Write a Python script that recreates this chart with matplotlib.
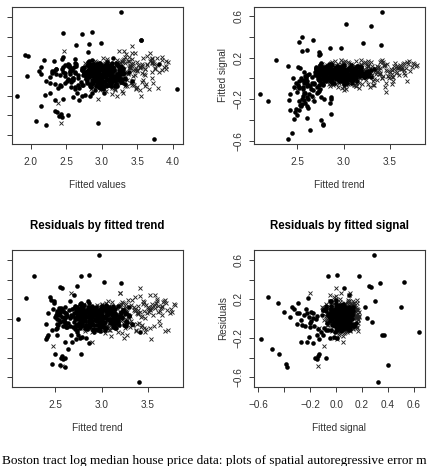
import numpy as np
import matplotlib
matplotlib.use("Agg")
import matplotlib.pyplot as plt

plt.rcParams['font.family'] = ['Liberation Sans', 'DejaVu Sans']

# ---- data: one entry per tract (trend, signal, residual) ----
# filled points
dot_trend = [2.97, 2.78, 2.86, 2.27, 3.025, 3.216, 2.576, 2.74, 2.55, 2.18,
             2.44, 2.854, 2.49, 2.78, 2.49, 2.45, 2.66, 2.70, 3.298, 2.735,
             2.42, 2.62, 2.47, 2.85, 2.10, 2.395, 2.395, 2.64, 2.78, 2.46,
             2.60, 2.55, 3.41, 3.413, 2.515, 2.666, 2.61, 2.41, 2.61, 2.68,
             2.86, 2.50, 2.56, 2.58, 2.60, 2.57, 2.52, 2.55, 2.53, 2.58,
             2.62, 2.66, 2.71, 2.74, 2.55, 2.57, 2.60, 2.63, 2.52, 2.54,
             2.50, 2.56, 2.52, 2.51, 2.52, 2.55, 2.59, 2.60, 2.57, 2.75,
             2.77, 2.79, 2.83, 2.72, 2.76, 2.79, 2.86, 2.86, 2.46, 2.42,
             2.54, 2.58, 2.52, 2.75, 2.51, 2.53, 2.756,
             2.62, 2.71, 2.78, 2.83, 2.88, 2.93, 2.98, 3.04, 3.12, 3.24,
             2.58, 2.68, 2.75, 2.81, 2.86, 2.91, 2.96, 3.02, 3.09, 3.18,
             2.65, 2.73, 2.79, 2.84, 2.90, 2.95, 3.00, 3.07, 3.15, 3.30,
             2.60, 2.70, 2.77, 2.82, 2.87, 2.92, 2.97, 3.05, 3.11, 3.21,
             2.66, 2.74, 2.80, 2.85, 2.89, 2.94, 3.01, 3.08, 3.16, 3.27,
             2.56, 2.69, 2.76, 2.81, 2.86, 2.90, 2.99, 3.03, 3.10, 3.19,
             2.63, 2.72, 2.78, 2.83, 2.88, 2.93, 2.97, 3.06, 3.13, 3.23,
             2.67, 2.75, 2.80, 2.85, 2.91, 2.96, 3.02, 3.08, 3.14, 3.33,
             2.59, 2.71, 2.77, 2.82, 2.87, 2.92, 2.98, 3.04, 3.11, 3.20,
             2.64, 2.73, 2.79, 2.84, 2.89, 2.95, 3.00, 3.05, 3.17, 3.26,
             2.61, 2.70, 2.76, 2.80, 2.86, 2.90, 2.94, 3.01, 3.09, 3.15,
             2.68, 2.74, 2.78, 2.83, 2.88, 2.93, 2.99, 3.06, 3.12, 3.22,
             2.73, 2.79, 2.84, 2.89, 2.94, 2.99, 3.04, 3.10, 3.17, 3.26,
             2.76, 2.81, 2.86, 2.91, 2.96, 3.01, 3.07, 3.13, 3.20, 2.70,
             2.74, 2.80, 2.85, 2.90, 2.95, 3.00, 3.05, 3.11, 3.18, 3.28,
             2.77, 2.82, 2.87, 2.92, 2.97, 3.02, 3.08, 3.14, 3.22, 2.72,
             2.75, 2.81, 2.86, 2.91, 2.96, 3.01, 3.06, 3.12, 3.19, 3.25,
             2.78, 2.83, 2.88, 2.93, 2.98, 3.03, 3.09, 3.15, 3.23, 2.71,
             2.74, 2.79, 2.85, 2.90, 2.95, 3.00, 3.05, 3.10, 3.16, 3.30,
             2.76, 2.82, 2.87, 2.92, 2.97, 3.02, 3.07, 3.13, 3.21, 2.69,
             2.73, 2.80, 2.84, 2.89, 2.94, 2.99, 3.04, 3.09, 3.14, 3.24,
             2.77, 2.83, 2.88, 2.93, 2.98, 3.03, 3.08, 3.12, 3.18, 2.75]
dot_signal = [0.295, -0.063, 0.009, 0.179, 0.52, 0.338, 0.061, 0.25, 0.266, -0.214,
              -0.523, 0.297, -0.297, -0.448, -0.045, 0.0, -0.04, 0.10, 0.503, 0.225,
              -0.30, -0.29, -0.325, -0.235, -0.154, 0.115, -0.58, -0.495, -0.438, -0.39,
              -0.38, 0.40, 0.323, 0.636, 0.351, 0.369, 0.273, -0.207, -0.268, -0.222,
              -0.178, -0.132, -0.166, -0.145, -0.076, -0.137, -0.222, -0.196, -0.26, -0.24,
              -0.20, -0.17, -0.14, -0.12, -0.25, -0.21, -0.18, -0.15, -0.30, -0.27,
              -0.356, -0.10, -0.08, -0.06, -0.03, -0.02, 0.01, -0.05, -0.04, -0.10,
              -0.05, -0.02, 0.01, -0.13, -0.18, -0.20, -0.34, -0.195, -0.08, -0.15,
              0.0, -0.02, -0.09, 0.235, 0.11, 0.10, -0.398,
              -0.06, 0.03, 0.10, 0.06, -0.02, 0.12, 0.04, 0.08, 0.01, 0.05,
              0.02, -0.04, 0.13, 0.00, 0.09, 0.05, 0.11, -0.03, 0.07, 0.10,
              -0.10, 0.08, -0.02, 0.14, 0.03, 0.07, 0.00, 0.10, 0.04, 0.08,
              -0.03, 0.11, 0.05, 0.08, 0.13, -0.01, 0.06, 0.02, 0.09, 0.03,
              0.01, -0.06, 0.09, 0.02, 0.06, 0.10, -0.04, 0.05, 0.12, 0.06,
              -0.08, 0.06, 0.15, 0.04, 0.00, 0.08, 0.12, 0.06, -0.02, 0.11,
              0.04, 0.01, -0.05, 0.11, 0.07, 0.03, 0.09, -0.01, 0.06, 0.02,
              -0.11, 0.13, 0.03, -0.03, 0.10, 0.01, 0.05, 0.13, 0.03, 0.09,
              -0.01, -0.08, 0.07, 0.12, 0.04, 0.09, -0.02, 0.07, 0.10, 0.04,
              -0.07, 0.05, 0.11, 0.01, 0.08, -0.03, 0.13, 0.03, 0.05, 0.07,
              0.03, 0.09, -0.01, 0.06, 0.14, 0.06, 0.02, 0.09, -0.04, 0.12,
              -0.05, -0.02, 0.08, 0.10, 0.02, 0.11, 0.07, 0.00, 0.08, 0.01,
              0.02, 0.07, -0.01, 0.04, 0.09, 0.00, 0.05, 0.03, 0.07, 0.02,
              0.08, -0.03, 0.05, 0.10, 0.01, 0.06, -0.02, 0.04, 0.05, 0.09,
              -0.02, 0.04, 0.11, -0.04, 0.06, 0.03, 0.08, 0.00, 0.02, 0.05,
              0.05, 0.10, 0.02, 0.07, -0.03, 0.09, 0.01, 0.06, 0.03, -0.01,
              0.11, 0.00, 0.07, 0.01, 0.04, -0.05, 0.10, 0.02, 0.08, 0.04,
              0.01, 0.06, -0.04, 0.09, 0.05, 0.02, 0.06, -0.03, 0.01, 0.07,
              0.09, -0.01, 0.04, 0.06, -0.02, 0.08, 0.03, 0.07, 0.05, 0.01,
              -0.04, 0.08, 0.06, 0.00, 0.10, 0.04, 0.00, 0.09, 0.04, 0.03,
              0.06, 0.02, 0.09, 0.05, 0.02, 0.07, -0.04, 0.05, 0.00, 0.06,
              0.03, 0.11, 0.00, 0.03, 0.07, -0.02, 0.05, 0.01, 0.06, 0.10]
dot_resid = [0.651, 0.432, 0.446, 0.439, 0.371, 0.364, 0.313, 0.333, 0.327, 0.207,
             0.217, 0.183, 0.162, 0.156, 0.178, 0.19, 0.177, 0.242, 0.118, 0.121,
             0.053, 0.053, 0.094, 0.094, 0.0, -0.056, -0.207, -0.306, -0.361, -0.46,
             -0.497, -0.477, -0.648, -0.132, -0.169, -0.169, -0.036, -0.193, -0.241, -0.238,
             -0.248, -0.367, -0.405, -0.415, -0.398, -0.385, 0.053, 0.067, -0.07, -0.08,
             -0.09, -0.075, -0.11, -0.135, 0.035, 0.02, 0.005, 0.03, -0.05, -0.015,
             0.02, 0.09, 0.075, 0.04, 0.00, -0.03, -0.02, 0.02, 0.10, -0.17,
             -0.20, -0.19, -0.20, -0.21, 0.06, -0.04, 0.12, -0.02, -0.12, -0.17,
             0.11, 0.08, -0.10, 0.01, -0.11, 0.04, 0.07,
             0.05, -0.09, 0.12, 0.02, -0.04, 0.08, -0.13, 0.10, 0.00, -0.06,
             -0.02, 0.10, -0.07, 0.14, 0.03, -0.11, 0.06, 0.01, 0.09, -0.03,
             0.09, 0.00, 0.04, -0.08, 0.12, 0.02, -0.05, 0.07, -0.10, 0.04,
             -0.06, 0.06, 0.15, -0.02, 0.08, -0.14, 0.03, 0.11, -0.04, 0.06,
             0.01, -0.12, 0.07, 0.10, -0.07, 0.05, 0.13, -0.01, 0.04, -0.08,
             0.11, 0.03, -0.04, 0.06, 0.16, -0.03, 0.00, -0.09, 0.08, 0.02,
             -0.09, 0.08, 0.01, -0.06, 0.04, 0.11, -0.10, 0.05, -0.02, 0.09,
             0.04, -0.05, 0.10, 0.03, -0.12, 0.07, 0.02, 0.12, 0.06, -0.05,
             0.07, 0.13, -0.10, 0.05, 0.01, -0.06, 0.09, -0.03, 0.11, 0.03,
             -0.04, 0.02, 0.06, -0.11, 0.10, 0.04, -0.07, 0.14, 0.00, -0.02,
             0.12, -0.03, 0.09, 0.00, -0.08, 0.13, 0.05, -0.05, 0.07, 0.10,
             0.03, 0.06, -0.08, 0.08, 0.06, -0.01, 0.11, 0.04, -0.09, 0.01,
             0.03, -0.06, 0.08, -0.01, 0.05, -0.09, 0.02, 0.10, -0.04, 0.06,
             -0.08, 0.04, -0.03, 0.07, -0.12, 0.01, 0.09, -0.05, 0.03, 0.11,
             0.06, 0.12, -0.07, 0.02, -0.02, 0.08, -0.10, 0.04, 0.13, -0.03,
             -0.01, -0.10, 0.05, 0.11, 0.01, -0.05, 0.07, -0.08, 0.02, -0.06,
             0.10, 0.02, -0.09, 0.04, 0.09, -0.02, 0.00, 0.13, -0.06, 0.05,
             -0.05, 0.07, 0.01, -0.11, 0.03, 0.11, -0.04, 0.06, 0.09, 0.00,
             0.01, -0.03, 0.12, 0.06, -0.07, 0.04, 0.08, -0.01, -0.10, 0.03,
             0.08, 0.00, -0.05, 0.09, -0.03, -0.08, 0.05, 0.02, 0.07, -0.09,
             -0.07, 0.09, 0.03, -0.04, 0.12, 0.06, -0.12, 0.00, 0.04, 0.08,
             0.04, -0.08, 0.10, 0.00, -0.05, 0.02, 0.11, -0.07, -0.01, 0.05]

# crosses
cross_trend = [2.76, 2.85, 2.92, 2.97, 3.03, 3.09, 3.17, 3.26, 3.38, 3.55,
               2.81, 2.88, 2.95, 3.01, 3.06, 3.13, 3.22, 3.31, 3.45, 3.63,
               2.79, 2.90, 2.94, 3.00, 3.08, 3.15, 3.20, 3.34, 3.49, 3.70,
               2.83, 2.86, 2.96, 3.04, 3.11, 3.18, 3.27, 3.36, 3.52, 3.66,
               2.74, 2.89, 2.99, 3.02, 3.07, 3.14, 3.24, 3.40, 3.58, 3.75,
               2.80, 2.91, 2.98, 3.05, 3.10, 3.19, 3.29, 3.43, 3.54, 3.68,
               2.84, 2.93, 3.00, 3.06, 3.12, 3.21, 3.30, 3.39, 3.47, 3.61,
               2.77, 2.87, 2.97, 3.03, 3.13, 3.23, 3.33, 3.44, 3.60, 3.78,
               2.82, 2.92, 3.01, 3.08, 3.16, 3.25, 3.35, 3.46, 3.56, 3.72,
               2.86, 2.95, 3.02, 3.09, 3.17, 3.28, 3.37, 3.50, 3.62, 3.69,
               2.78, 2.90, 2.99, 3.07, 3.14, 3.22, 3.32, 3.41, 3.53, 3.65,
               2.83, 2.94, 3.04, 3.10, 3.20, 3.27, 3.38, 3.48, 3.59, 3.74,
               2.88, 2.96, 3.05, 3.12, 3.19, 3.30, 3.42, 3.51, 3.64, 3.80,
               2.80, 2.91, 3.00, 3.11, 3.18, 3.26, 3.34, 3.45, 3.57, 3.67,
               2.85, 2.97, 3.03, 3.08, 3.15, 3.24, 3.36, 3.47, 3.61, 3.71,
               2.79, 2.89, 2.98, 3.06, 3.13, 3.21, 3.31, 3.40, 3.52, 3.63,
               2.84, 2.93, 3.01, 3.09, 3.16, 3.23, 3.29, 3.37, 3.46, 3.58,
               2.87, 2.95, 3.02, 3.05, 3.12, 3.18, 3.25, 3.33, 3.43, 3.55,
               2.82, 2.92, 2.99, 3.04, 3.10, 3.17, 3.28, 3.39, 3.50, 3.66,
               2.90, 2.96, 3.02, 3.07, 3.14, 3.20, 3.27, 3.35, 3.44, 3.60,
               2.81, 2.94, 3.00, 3.03, 3.11, 3.15, 3.22, 3.32, 3.42, 3.53,
               2.86, 2.97, 3.05, 3.08, 3.13, 3.19, 3.26, 3.36, 3.48, 3.76,
               3.42, 2.67, 3.20, 3.20, 3.58, 2.57, 2.47, 2.90, 3.54, 3.46, 3.69]
cross_signal = [0.05, -0.02, 0.10, 0.03, -0.06, 0.08, 0.01, 0.12, 0.04, 0.09,
                0.12, 0.02, -0.04, 0.07, 0.15, -0.01, 0.06, 0.03, 0.13, 0.11,
                -0.03, 0.08, 0.14, -0.08, 0.02, 0.11, -0.05, 0.07, 0.00, 0.14,
                0.09, 0.15, 0.01, 0.11, -0.03, 0.04, 0.13, -0.02, 0.08, 0.05,
                0.02, -0.06, 0.06, 0.17, 0.09, -0.07, 0.03, 0.10, 0.12, 0.15,
                0.07, 0.11, -0.09, 0.01, 0.05, 0.13, 0.09, 0.02, -0.03, 0.10,
                -0.05, 0.04, 0.07, -0.02, 0.12, 0.00, 0.16, 0.05, 0.07, 0.13,
                0.14, 0.00, 0.18, 0.09, -0.04, 0.07, -0.06, 0.13, 0.03, 0.12,
                0.03, 0.13, -0.07, 0.05, 0.02, 0.10, 0.04, -0.04, 0.15, 0.07,
                0.10, -0.03, 0.04, 0.13, -0.09, 0.03, 0.11, 0.06, 0.09, 0.16,
                -0.01, 0.06, 0.12, -0.05, 0.08, 0.15, -0.03, 0.17, 0.01, 0.08,
                0.08, -0.08, 0.02, 0.09, 0.06, -0.05, 0.08, 0.02, 0.10, 0.11,
                0.16, 0.09, -0.02, 0.03, 0.14, 0.05, 0.00, 0.09, 0.14, 0.13,
                0.04, 0.17, 0.05, -0.06, 0.00, 0.12, 0.10, -0.08, 0.05, 0.03,
                -0.07, 0.03, 0.09, 0.14, 0.04, -0.02, 0.06, 0.14, 0.11, 0.17,
                0.11, -0.04, 0.13, 0.04, 0.17, 0.07, 0.12, 0.04, -0.05, 0.09,
                0.06, 0.10, -0.11, 0.08, 0.01, 0.16, -0.08, 0.11, 0.08, 0.06,
                -0.02, 0.05, 0.08, 0.16, -0.06, 0.09, 0.14, -0.01, 0.16, 0.12,
                0.13, -0.05, 0.15, 0.00, 0.10, -0.04, 0.02, 0.16, 0.06, 0.15,
                0.01, 0.12, 0.03, 0.11, -0.07, 0.06, 0.17, 0.08, 0.12, 0.10,
                0.09, 0.01, 0.16, -0.10, 0.07, 0.02, 0.09, -0.06, 0.18, 0.04,
                0.04, 0.14, -0.05, 0.06, 0.11, 0.18, 0.03, 0.12, 0.02, 0.14,
                0.00, -0.20, 0.11, 0.04, 0.10, -0.137, -0.09, 0.05, 0.01, -0.13, -0.03]
cross_resid = [0.02, -0.08, 0.11, -0.03, 0.06, -0.12, 0.04, 0.15, -0.05, 0.12,
               -0.10, 0.05, -0.02, 0.14, -0.06, 0.09, -0.15, 0.03, 0.18, 0.08,
               0.07, -0.14, 0.03, 0.10, -0.09, 0.01, 0.12, -0.07, 0.06, 0.16,
               -0.04, 0.12, -0.11, 0.00, 0.17, -0.05, 0.08, 0.22, -0.10, 0.13,
               0.13, 0.01, 0.08, -0.13, 0.03, 0.11, -0.03, 0.05, 0.14, 0.10,
               -0.07, 0.09, -0.01, 0.06, -0.18, 0.04, 0.19, -0.09, 0.11, 0.18,
               0.04, -0.03, 0.15, -0.08, 0.09, -0.02, 0.01, 0.13, -0.14, 0.07,
               0.10, -0.11, 0.02, 0.08, -0.04, 0.16, -0.07, 0.03, 0.20, 0.15,
               -0.13, 0.06, -0.06, 0.12, 0.00, -0.10, 0.09, 0.17, 0.04, -0.12,
               0.05, 0.14, -0.09, 0.02, 0.11, 0.07, -0.12, 0.10, -0.02, 0.19,
               -0.02, -0.06, 0.06, 0.18, -0.08, 0.02, 0.14, -0.04, 0.09, 0.12,
               0.08, 0.03, -0.15, -0.01, 0.07, 0.12, 0.06, -0.11, 0.16, 0.06,
               -0.09, 0.10, 0.04, -0.07, 0.13, -0.04, 0.23, 0.07, 0.11, 0.14,
               0.12, -0.01, 0.09, 0.05, -0.14, 0.08, -0.05, 0.15, -0.08, 0.17,
               0.00, 0.07, -0.04, 0.13, 0.02, -0.20, 0.10, 0.01, 0.13, 0.09,
               -0.05, 0.11, 0.01, -0.10, 0.05, 0.15, -0.09, 0.06, 0.24, -0.07,
               0.09, -0.12, 0.12, 0.04, -0.02, 0.10, 0.03, -0.13, 0.08, 0.11,
               0.03, 0.08, -0.07, 0.16, 0.06, -0.06, 0.11, 0.19, 0.02, 0.15,
               -0.11, 0.02, 0.07, -0.05, 0.10, 0.05, -0.17, 0.09, 0.12, 0.04,
               0.06, -0.09, 0.13, 0.03, -0.03, 0.14, 0.00, 0.12, -0.06, 0.18,
               0.15, 0.04, -0.10, 0.09, 0.01, -0.08, 0.17, -0.02, 0.07, 0.10,
               -0.06, 0.13, 0.05, -0.12, 0.12, 0.03, -0.04, 0.08, 0.14, 0.07,
               0.31, 0.26, 0.26, 0.26, 0.24, -0.484, -0.28, -0.24, -0.207, -0.10, -0.13]

caption = "Boston tract log median house price data: plots of spatial autoregressive error m"

dt, ds, dr = np.array(dot_trend), np.array(dot_signal), np.array(dot_resid)
ct, cs, cr = np.array(cross_trend), np.array(cross_signal), np.array(cross_resid)

W, H = 428, 466
fig = plt.figure(figsize=(W / 100, H / 100), dpi=100)
ink = '#3a3a3a'


def panel(l, t, r, b):
    ax = fig.add_axes([l / W, 1 - b / H, (r - l) / W, (b - t) / H])
    for s in ax.spines.values():
        s.set_color(ink)
        s.set_linewidth(0.8)
    ax.tick_params(direction='out', length=3.6, width=0.7, color=ink,
                   labelsize=7.2, labelcolor='#333333')
    ax.tick_params(axis='x', pad=6)
    ax.tick_params(axis='y', labelrotation=90, pad=4)
    return ax


def pts(ax, xd, yd, xc, yc):
    ax.plot(xc, yc, 'x', color='#222222', ms=3.2, mew=0.65, ls='none')
    ax.plot(xd, yd, 'o', color='black', ms=3.3, mew=0, ls='none')


def lab(ax, xlab, ylab=None, title=None):
    ax.set_xlabel(xlab, fontsize=7.2, labelpad=9, color='#333333')
    if ylab:
        ax.set_ylabel(ylab, fontsize=7.2, labelpad=4, color='#333333')
    if title:
        ax.set_title(title, fontsize=8.3, fontweight='bold', pad=15)


yt = [-0.6, -0.4, -0.2, 0.0, 0.2, 0.4, 0.6]
yl_full = ['\u22120.6', '', '\u22120.2', '', '0.2', '', '0.6']

# residuals vs fitted values
ax1 = panel(12, 7, 183, 144)
pts(ax1, dt + ds, dr, ct + cs, cr)
ax1.set_xlim(1.74, 4.14)
ax1.set_ylim(-0.695, 0.705)
ax1.set_xticks([2.0, 2.5, 3.0, 3.5, 4.0])
ax1.set_yticks(yt)
ax1.set_yticklabels([''] * 7)
lab(ax1, 'Fitted values')

# signal vs trend
ax2 = panel(254, 7, 425, 144)
pts(ax2, dt, ds, ct, cs)
ax2.set_xlim(2.031, 3.882)
ax2.set_ylim(-0.632, 0.687)
ax2.set_xticks([2.5, 3.0, 3.5])
ax2.set_yticks(yt)
ax2.set_yticklabels(yl_full, va='center')
lab(ax2, 'Fitted trend', 'Fitted signal')

# residuals vs trend
ax3 = panel(12, 250, 183, 387)
pts(ax3, dt, dr, ct, cr)
ax3.set_xlim(2.031, 3.882)
ax3.set_ylim(-0.70, 0.703)
ax3.set_xticks([2.5, 3.0, 3.5])
ax3.set_yticks(yt)
ax3.set_yticklabels([''] * 7)
lab(ax3, 'Fitted trend', title='Residuals by fitted trend')

# residuals vs signal
ax4 = panel(254, 250, 425, 387)
pts(ax4, ds, dr, cs, cr)
ax4.set_xlim(-0.633, 0.685)
ax4.set_ylim(-0.70, 0.703)
ax4.set_xticks([-0.6, -0.4, -0.2, 0.0, 0.2, 0.4, 0.6])
ax4.set_xticklabels(['\u22120.6', '', '\u22120.2', '0.0', '0.2', '0.4', '0.6'])
ax4.set_yticks(yt)
ax4.set_yticklabels(yl_full, va='center')
lab(ax4, 'Fitted signal', 'Residuals', 'Residuals by fitted signal')

fig.text(2 / W, 1 - 461 / H, caption, family=['Liberation Serif', 'DejaVu Serif'],
         fontsize=9.5, ha='left', va='center')

fig.savefig('out.png', dpi=100)
